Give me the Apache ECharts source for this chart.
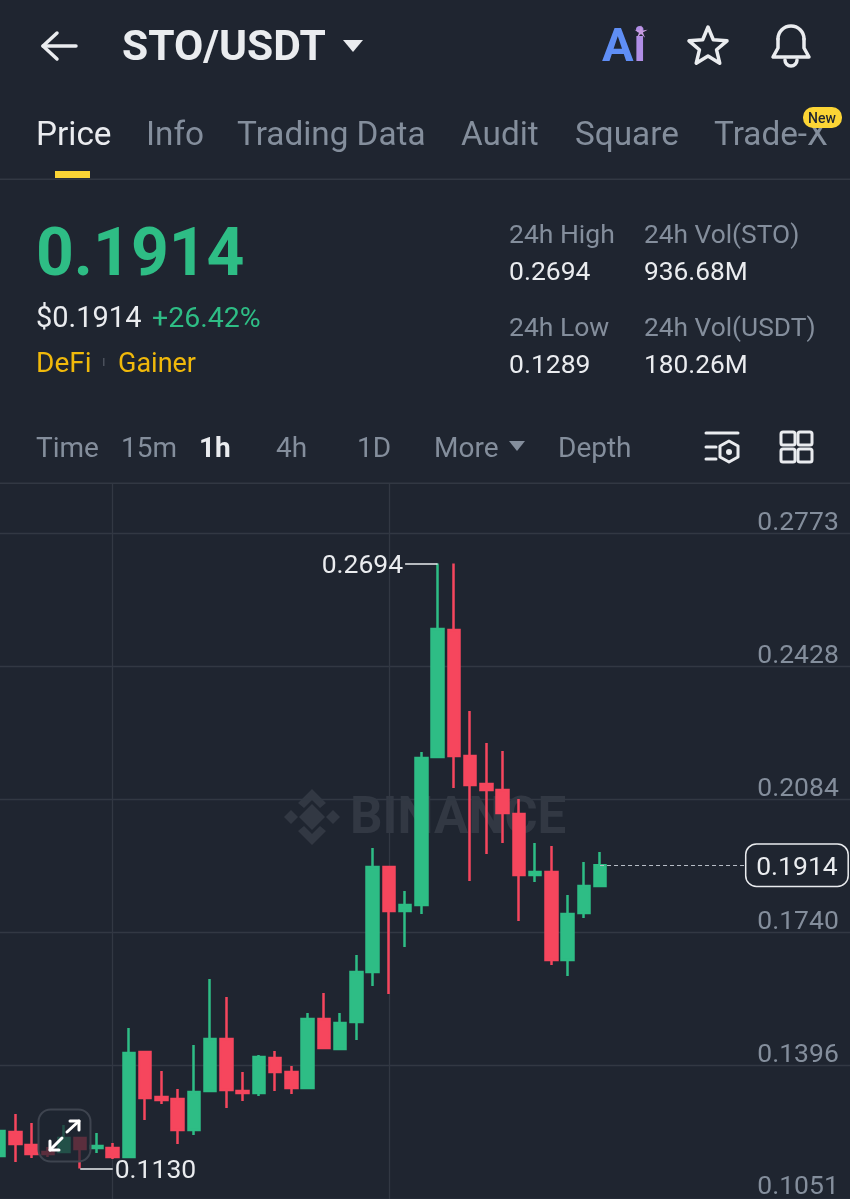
<!DOCTYPE html>
<html>
<head>
<meta charset="utf-8">
<style>
    html, body { margin: 0; padding: 0; background: #1f2530; }
    #chart { width: 850px; height: 1199px; }
</style>
<script src="https://cdn.jsdelivr.net/npm/echarts@6/dist/echarts.min.js"></script>
</head>
<body>
<div id="chart"></div>
<script>
const opens = [
    0.11619, 0.12240, 0.11904, 0.11723, 0.11723, 0.12085, 0.11826, 0.11826, 0.11593, 0.14309,
    0.13145, 0.13093, 0.12292, 0.13300, 0.14645, 0.13300, 0.13248, 0.14153, 0.13791, 0.13378,
    0.15162, 0.14386, 0.15084, 0.16377, 0.19093, 0.17955, 0.18110, 0.21937, 0.25222, 0.21963,
    0.21239, 0.21084, 0.20463, 0.18886, 0.18963, 0.16688, 0.17903, 0.18601,
];
const closes = [
    0.12266, 0.11930, 0.11671, 0.11671, 0.12085, 0.11800, 0.11878, 0.11593, 0.14283, 0.13119,
    0.13067, 0.12292, 0.13274, 0.14645, 0.13326, 0.13248, 0.14179, 0.13791, 0.13378, 0.15162,
    0.14412, 0.15059, 0.16377, 0.19093, 0.17955, 0.18110, 0.21911, 0.25247, 0.21963, 0.21213,
    0.21084, 0.20489, 0.18886, 0.18963, 0.16688, 0.17877, 0.18601, 0.1914,
];
const lows = [
    0.11619, 0.11464, 0.11567, 0.11593, 0.11697, 0.1130, 0.11697, 0.11542, 0.11567, 0.12550,
    0.12964, 0.11930, 0.12162, 0.13300, 0.12860, 0.13042, 0.13171, 0.13300, 0.13223, 0.13352,
    0.14412, 0.14360, 0.14619, 0.16015, 0.15809, 0.17024, 0.17877, 0.21937, 0.21136, 0.18731,
    0.19429, 0.19713, 0.17696, 0.18705, 0.16558, 0.16274, 0.17774, 0.18576,
];
const highs = [
    0.12266, 0.12705, 0.12473, 0.11852, 0.12421, 0.12085, 0.12214, 0.11955, 0.14929, 0.14309,
    0.13817, 0.13352, 0.14490, 0.16196, 0.15731, 0.13791, 0.14231, 0.14335, 0.13947, 0.15317,
    0.15834, 0.15317, 0.16817, 0.19584, 0.19093, 0.18472, 0.22067, 0.2694, 0.2694, 0.23127,
    0.22299, 0.22093, 0.20851, 0.19713, 0.19636, 0.18369, 0.19222, 0.19481,
];
const priceTicks = [0.2773, 0.2428, 0.2084, 0.1740, 0.1396, 0.1051];
const gridCandles = [7, 24];
const BAND_COUNT = 53;
const HIGH_INDEX = 27;
const LOW_INDEX = 5;
const LAST_INDEX = 37;
const HIGH_PRICE = 0.2694;
const LOW_PRICE = 0.1130;
const LAST_PRICE = 0.1914;

const tabs = [['Price', 36], ['Info', 146], ['Trading Data', 237], ['Audit', 461], ['Square', 575], ['Trade-X', 714]];
const periods = [['Time', 36], ['15m', 121], ['1h', 199], ['4h', 276], ['1D', 357], ['More', 434], ['Depth', 558]];

const BG = '#1f2530';
const GREEN = '#2ebd85';
const RED = '#f6465d';
const GREY = '#848e9c';
const WHITE = '#eaecef';
const YELLOW = '#f0b90b';
const LINE = '#323843';
const FONT = 'Roboto, sans-serif';

const categories = [];
for (let i = 0; i < BAND_COUNT; i++) categories.push(String(i));
const candles = opens.map((o, i) => [o, closes[i], lows[i], highs[i]]);

function text(str, x, y, size, fill, extra) {
    return {
        type: 'text', x: x, y: y, z: 50,
        style: Object.assign({ text: str, fontSize: size, fontFamily: FONT, fill: fill, verticalAlign: 'middle' }, extra || {}),
    };
}
function stroke(type, shape, width, color, z) {
    return {
        type: type, shape: shape, z: z || 50,
        style: { stroke: color || WHITE, fill: 'none', lineWidth: width || 3, lineCap: 'round', lineJoin: 'round' },
    };
}
function poly(points, color, z) {
    return { type: 'polygon', shape: { points: points }, z: z === undefined ? 50 : z, style: { fill: color } };
}
function starPoints(cx, cy, outer, inner) {
    const pts = [];
    for (let i = 0; i < 10; i++) {
        const r = i % 2 ? inner : outer;
        const a = -Math.PI / 2 + i * Math.PI / 5;
        pts.push([cx + r * Math.cos(a), cy + r * Math.sin(a)]);
    }
    return pts;
}

const elements = [
    // header
    stroke('polyline', { points: [[43, 46], [76, 46]] }, 3.5),
    stroke('polyline', { points: [[57, 33], [43, 46], [57, 59]] }, 3.5),
    text('STO/USDT', 122, 49, 42.5, WHITE, { fontWeight: 'bold' }),
    poly([[343, 40], [363, 40], [353, 52]], WHITE),
    text('{a|A}{b|i}', 602, 49, 47, '#5f8ef5', {
        rich: {
            a: { fill: '#5f8ef5', fontSize: 47, fontFamily: FONT, fontWeight: 'bold' },
            b: { fill: '#b08ee6', fontSize: 47, fontFamily: FONT, fontWeight: 'bold' },
        },
    }),
    poly(starPoints(641, 32, 7, 2), '#c79be0'),
    { type: 'polygon', shape: { points: starPoints(708, 47, 20, 9) }, z: 50, style: { stroke: WHITE, fill: 'none', lineWidth: 3.5, lineJoin: 'round' } },
    stroke('arc', { cx: 791, cy: 39, r: 13, startAngle: Math.PI, endAngle: 0, clockwise: true }, 3.5),
    stroke('polyline', { points: [[778, 39], [778, 48], [773, 57], [809, 57], [804, 48], [804, 39]] }, 3.5),
    stroke('arc', { cx: 791, cy: 60, r: 6, startAngle: 0, endAngle: Math.PI, clockwise: true }, 3.5),

    // tabs
    { type: 'rect', shape: { x: 55, y: 171, width: 35, height: 7 }, z: 50, style: { fill: '#fcd535' } },
    { type: 'rect', shape: { x: 0, y: 178.5, width: 850, height: 1.5 }, z: 50, style: { fill: LINE } },
    { type: 'rect', shape: { x: 803, y: 107, width: 39, height: 21, r: 10 }, z: 51, style: { fill: '#fcd535' } },
    Object.assign(text('New', 822, 119, 14, '#1f2530', { align: 'center', fontWeight: 500 }), { z: 52 }),

    // price block
    text('0.1914', 36, 258, 66, GREEN, { fontWeight: 'bold' }),
    text('$0.1914', 36, 320, 29, WHITE),
    text('+26.42%', 152, 320, 28.5, GREEN),
    text('DeFi', 36, 365, 28, YELLOW),
    { type: 'rect', shape: { x: 103, y: 358, width: 1.5, height: 8 }, z: 50, style: { fill: '#4a505b' } },
    text('Gainer', 118, 365, 27, YELLOW),
    text('24h High', 509, 236, 26.5, GREY),
    text('0.2694', 509, 273, 26.5, WHITE),
    text('24h Low', 509, 329, 26.5, GREY),
    text('0.1289', 509, 366, 26.5, WHITE),
    text('24h Vol(STO)', 644, 236, 26.3, GREY),
    text('936.68M', 644, 273, 26.3, WHITE),
    text('24h Vol(USDT)', 644, 329, 26.3, GREY),
    text('180.26M', 644, 366, 26.3, WHITE),

    // period bar
    poly([[509, 441], [525, 441], [517, 451]], GREY),
    stroke('polyline', { points: [[706, 433], [738, 433]] }, 3),
    stroke('polyline', { points: [[706, 447], [716, 447]] }, 3),
    stroke('polyline', { points: [[706, 459], [716, 459]] }, 3),
    stroke('polygon', { points: [[729, 441], [738, 446], [738, 457], [729, 462], [720, 457], [720, 446]] }, 3),
    { type: 'circle', shape: { cx: 729, cy: 452, r: 3 }, z: 50, style: { fill: WHITE } },
    stroke('rect', { x: 781, y: 432, width: 14, height: 13, r: 2 }, 3),
    stroke('rect', { x: 798, y: 432, width: 14, height: 13, r: 2 }, 3),
    stroke('rect', { x: 781, y: 449, width: 14, height: 13, r: 2 }, 3),
    stroke('rect', { x: 798, y: 449, width: 14, height: 13, r: 2 }, 3),
    { type: 'rect', shape: { x: 0, y: 482.5, width: 850, height: 1.5 }, z: 50, style: { fill: LINE } },

    // watermark, under the candles
    poly([[312, 804], [325, 817], [312, 830], [299, 817]], '#323843', 0),
    poly([[312, 789], [326, 803], [320, 808], [312, 800], [304, 808], [298, 803]], '#323843', 0),
    poly([[312, 845], [326, 831], [320, 826], [312, 834], [304, 826], [298, 831]], '#323843', 0),
    poly([[284, 817], [291, 810], [298, 817], [291, 824]], '#323843', 0),
    poly([[340, 817], [333, 810], [326, 817], [333, 824]], '#323843', 0),
    Object.assign(text('BINANCE', 350, 820, 51, '#323843', { fontWeight: 'bold' }), { z: 0 }),

    // expand button, over the candles
    { type: 'rect', shape: { x: 38.5, y: 1109.5, width: 52, height: 52, r: 12 }, z: 60, style: { fill: 'rgba(31,37,48,0.72)', stroke: '#3e444f', lineWidth: 2 } },
    stroke('polyline', { points: [[50, 1150], [62, 1138]] }, 3, '#ffffff', 61),
    stroke('polyline', { points: [[50, 1141], [50, 1150], [59, 1150]] }, 3, '#ffffff', 61),
    stroke('polyline', { points: [[67, 1132], [79, 1121]] }, 3, '#ffffff', 61),
    stroke('polyline', { points: [[70, 1121], [79, 1121], [79, 1130]] }, 3, '#ffffff', 61),
];

tabs.forEach(([name, x], i) => elements.push(text(name, x, 137, 33.3, i === 0 ? WHITE : GREY)));
periods.forEach(([name, x]) => {
    const active = name === '1h';
    elements.push(text(name, x, 450, 28, active ? WHITE : GREY, active ? { fontWeight: 'bold' } : {}));
});

// rich token with top padding pushes the number a little under its line
const priceRich = {
    v: { color: WHITE, fontFamily: FONT, fontSize: 26.5, padding: [6, 0, 0, 0] },
    box: { color: WHITE, fontFamily: FONT, fontSize: 26.5, padding: [10, 0, 0, 0] },
};
const calloutLabel = price => ({
    show: true,
    position: 'end',
    formatter: '{v|' + price.toFixed(4) + '}',
    rich: priceRich,
    distance: 2,
});

const chart = echarts.init(document.getElementById('chart'), null, { renderer: 'canvas' });
chart.setOption({
    animation: false,
    backgroundColor: BG,
    grid: { left: -9.1, right: -1.8, top: 484, bottom: 0, outerBoundsMode: 'none' },
    xAxis: {
        type: 'category',
        data: categories,
        axisLine: { show: false },
        axisTick: { show: false },
        axisLabel: { show: false },
        splitLine: {
            show: true,
            alignWithLabel: true,
            interval: i => gridCandles.includes(i),
            lineStyle: { color: LINE, width: 1.3 },
        },
    },
    yAxis: {
        type: 'value',
        position: 'right',
        min: 0.1051,
        max: 0.28997,
        axisLine: { show: false },
        axisTick: { show: false, customValues: priceTicks },
        axisLabel: {
            inside: true,
            customValues: priceTicks,
            formatter: v => (v === 0.1051 ? '{low|' + v.toFixed(4) + '}' : v.toFixed(4)),
            margin: 13,
            color: GREY,
            fontFamily: FONT,
            fontSize: 26.5,
            verticalAlign: 'bottom',
            lineHeight: 20,
            rich: {
                low: { color: GREY, fontFamily: FONT, fontSize: 26.5, lineHeight: 20, padding: [0, 0, 3, 0] },
            },
        },
        splitLine: { show: true, lineStyle: { color: LINE, width: 1.3 } },
    },
    series: [{
        type: 'candlestick',
        silent: true,
        barWidth: 12,
        data: candles,
        itemStyle: { color: GREEN, color0: RED, borderColor: GREEN, borderColor0: RED, borderWidth: 2.5 },
        markLine: {
            silent: true,
            symbol: 'none',
            animation: false,
            data: [
                [
                    { coord: [HIGH_INDEX, HIGH_PRICE], lineStyle: { color: WHITE, width: 1.5, type: 'solid' }, label: calloutLabel(HIGH_PRICE) },
                    { coord: [HIGH_INDEX - 2.2, HIGH_PRICE] },
                ],
                [
                    { coord: [LOW_INDEX, LOW_PRICE], lineStyle: { color: WHITE, width: 1.5, type: 'solid' }, label: calloutLabel(LOW_PRICE) },
                    { coord: [LOW_INDEX + 2, LOW_PRICE] },
                ],
                [
                    { coord: [LAST_INDEX + 0.45, LAST_PRICE], lineStyle: { color: '#b7bdc6', width: 1.2, type: [4, 3] }, label: { show: false } },
                    { coord: [LAST_INDEX + 9, LAST_PRICE] },
                ],
            ],
        },
        markPoint: {
            silent: true,
            animation: false,
            data: [{
                coord: [LAST_INDEX + 12, LAST_PRICE],
                symbol: 'circle',
                symbolSize: 0,
                label: {
                    show: true,
                    position: 'inside',
                    formatter: '{box|' + LAST_PRICE.toFixed(4) + '}',
                    rich: priceRich,
                    align: 'center',
                    width: 101,
                    height: 41,
                    backgroundColor: BG,
                    borderColor: WHITE,
                    borderWidth: 1.5,
                    borderRadius: 10,
                    offset: [2, 0],
                },
            }],
        },
    }],
    graphic: { elements: elements },
});
</script>
</body>
</html>
